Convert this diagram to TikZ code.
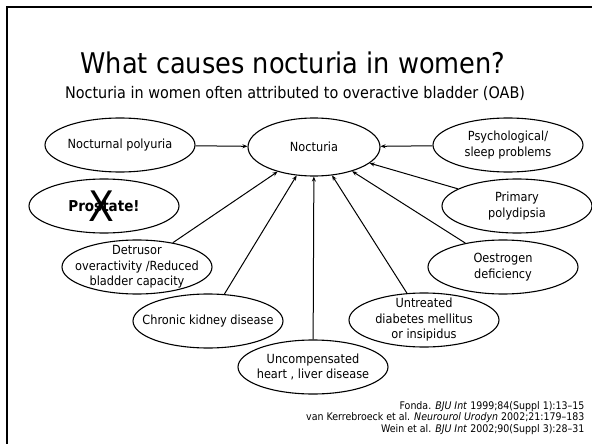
\documentclass[tikz,border=0pt]{standalone}
\usepackage{fontspec}
\setmainfont{DejaVu Sans}[FakeStretch=0.9]
\usetikzlibrary{shapes.geometric,arrows.meta}
\begin{document}
\begin{tikzpicture}[x=1pt,y=-1pt,
  oval/.style={draw,line width=1.1pt,ellipse,minimum width=150pt,minimum height=54pt,inner xsep=-25pt,inner ysep=-20pt,align=center,font=\fontsize{12.6}{15.5}\selectfont},
  arr/.style={-{Stealth[length=5pt,width=4pt]},line width=1pt}]
\useasboundingbox (0,0) rectangle (592,444);
\draw[line width=2pt] (7,450) -- (7,7) -- (600,7);
\node (title) at (293,63) {\fontsize{28.5}{32}\selectfont What causes nocturia in women?};
\node (sub) at (295,93) {\fontsize{16}{18}\selectfont Nocturia in women often attributed to overactive bladder (OAB)};
\node[oval] (noc) at (314,147) [minimum width=132pt,minimum height=58pt] {Nocturia};
\node[oval] (poly) at (120,145) {Nocturnal polyuria};
\node[oval] (psy) at (508,145) {Psychological/\\sleep problems};
\node[oval] (pros) at (104,206) {\fontsize{15}{17}\selectfont\bfseries Prostate!};
\node (x) at (101,206) {\fontsize{42}{42}\selectfont X};
\node[oval] (prim) at (517,206) {Primary\\polydipsia};
\node[oval] (det) at (137,267) {Detrusor\\overactivity /Reduced\\bladder capacity};
\node[oval] (oes) at (503,267) {Oestrogen\\deficiency};
\node[oval] (ckd) at (208,321) {Chronic kidney disease};
\node[oval] (dia) at (424,320) {Untreated\\diabetes mellitus\\or insipidus};
\node[oval] (unc) at (313,367) {Uncompensated\\heart , liver disease};
\draw[arr] (poly) -- (noc);
\draw[arr] (psy) -- (noc);
\draw[arr] (prim) -- (noc);
\draw[arr] (oes) -- (noc);
\draw[arr] (dia) -- (noc);
\draw[arr] (unc) -- (noc);
\draw[arr] (ckd) -- (noc);
\draw[arr] (det) -- (noc);
\node[anchor=east,align=right,font=\fontsize{10.5}{11.5}\selectfont] (ref) at (588,418) {Fonda. \textit{BJU Int} 1999;84(Suppl 1):13–15\\van Kerrebroeck et al. \textit{Neurourol Urodyn} 2002;21:179–183\\Wein et al. \textit{BJU Int} 2002;90(Suppl 3):28–31};
\end{tikzpicture}
\end{document}
